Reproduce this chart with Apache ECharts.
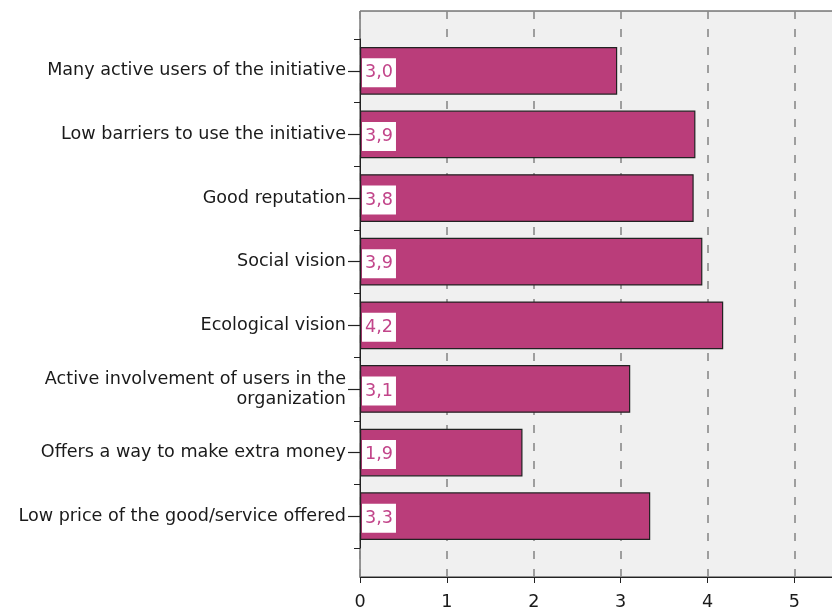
<!DOCTYPE html>
<html>
<head>
<meta charset="utf-8">
<script src="https://cdn.jsdelivr.net/npm/echarts@6/dist/echarts.min.js"></script>
<style>
  html, body { margin: 0; padding: 0; background: #fff; }
  #chart { width: 832px; height: 609px; }
</style>
</head>
<body>
<div id="chart"></div>
<script>
// Mean importance score per factor
const categories = [
  'Many active users of the initiative',
  'Low barriers to use the initiative',
  'Good reputation',
  'Social vision',
  'Ecological vision',
  'Active involvement of users in the\norganization',
  'Offers a way to make extra money',
  'Low price of the good/service offered'
];
const means = [2.96, 3.86, 3.84, 3.94, 4.18, 3.11, 1.87, 3.34];
const xTicks = [0, 1, 2, 3, 4, 5];

const FONT = '"DejaVu Sans", Verdana, sans-serif';
const FONT_SIZE = 17.6;
const X_MIN = xTicks[0];
const X_MAX = 5.478;
const X_STEP = xTicks[1] - xTicks[0];

const chart = echarts.init(document.getElementById('chart'), null, { renderer: 'canvas' });

// shared scale for both x axes
const xScale = { type: 'value', min: X_MIN, max: X_MAX, interval: X_STEP };

chart.setOption({
  animation: false,
  grid: [
    // frame, background, dashed grid and value axis (runs past the right edge)
    { left: 360, width: 476, top: 11, bottom: 32, show: true, outerBoundsMode: 'none',
      backgroundColor: '#f0f0f0', borderColor: '#333', borderWidth: 1 },
    // bars and categories
    { left: 360, width: 476, top: 39, bottom: 61, outerBoundsMode: 'none' }
  ],
  xAxis: [
    Object.assign({ gridIndex: 0 }, xScale, {
      axisLine: { show: true, lineStyle: { color: '#222', width: 1 } },
      axisTick: { show: true, length: 6, lineStyle: { color: '#222' } },
      axisLabel: { color: '#1a1a1a', fontSize: FONT_SIZE, fontFamily: FONT, margin: 16, showMaxLabel: false },
      splitLine: { show: true, lineStyle: { color: '#8a8a8a', width: 1.6, type: [8, 10] } }
    }),
    Object.assign({ gridIndex: 1 }, xScale, {
      axisLine: { show: false },
      axisTick: { show: false },
      axisLabel: { show: false },
      splitLine: { show: false }
    })
  ],
  yAxis: [
    { gridIndex: 0, type: 'value', show: false },
    {
      gridIndex: 1, type: 'category', position: 'left', inverse: true, data: categories,
      axisLine: { show: true, lineStyle: { color: '#222', width: 1 } },
      axisTick: { show: true, length: 6, lineStyle: { color: '#222' } },
      axisLabel: { show: false },
      splitLine: { show: false }
    },
    {
      gridIndex: 1, type: 'category', position: 'left', offset: 0, inverse: true, data: categories,
      axisLine: { show: false },
      axisTick: { show: true, alignWithLabel: true, length: 12, lineStyle: { color: '#222', width: 1.2 } },
      axisLabel: { color: '#1a1a1a', fontSize: FONT_SIZE, fontFamily: FONT, margin: 14, lineHeight: 20, align: 'right' },
      splitLine: { show: false }
    }
  ],
  series: [{
    type: 'bar',
    xAxisIndex: 1,
    yAxisIndex: 1,
    data: means,
    barWidth: '75%',
    itemStyle: { color: '#ba3d7a', borderColor: '#222', borderWidth: 1.2 },
    label: {
      show: true,
      position: 'insideLeft',
      distance: 2,
      offset: [0, 2],
      formatter: p => p.value.toFixed(1).replace('.', ','),
      color: '#c2458a',
      fontSize: FONT_SIZE,
      fontFamily: FONT,
      backgroundColor: '#fff',
      padding: [6, 3, 5, 3]
    }
  }]
});
</script>
</body>
</html>
